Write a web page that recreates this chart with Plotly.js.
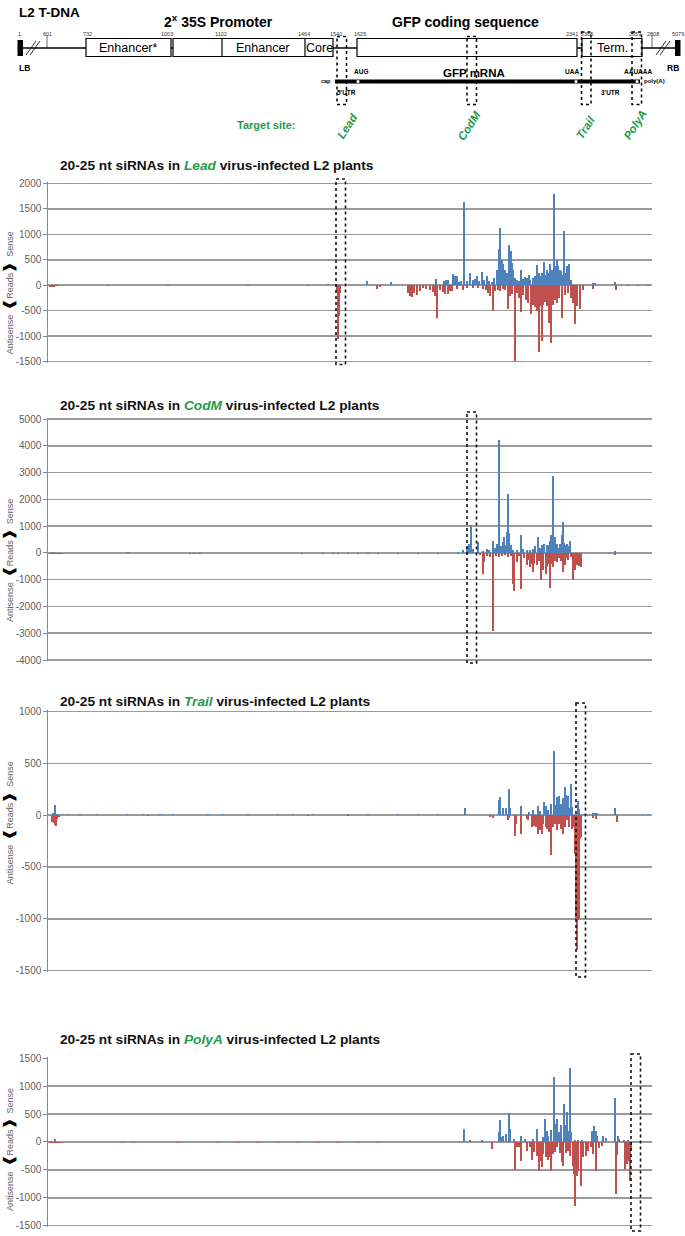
<!DOCTYPE html>
<html><head><meta charset="utf-8">
<script src="https://cdn.plot.ly/plotly-3.0.1.min.js"></script>
<style>html,body{margin:0;padding:0;background:#fff}#chart{width:685px;height:1236px}</style>
</head><body><div id="chart"></div>
<script>
// ---------------- DATA (bin position along plotted T-DNA region, reads) ----------------
const panelNames = ['Lead', 'CodM', 'Trail', 'PolyA'];

const leadSensePos = [5,50,150,250,280,319,343,388,396,398,400,405,407,409,411,413,416,419,422,425,427,429,431,434,436,439,441,444,446,449,451,452,454,455,457,459,461,463,464,465,467,469,471,473,475,477,479,481,482,485,487,489,491,492,494,496,498,499,500,502,504,506,507,509,510,511,512,513,514,515,516,517,518,519,520,521,523,545,547,567];
const leadSense    = [10,8,8,10,15,78,59,130,90,111,100,222,190,176,60,80,1643,90,241,100,120,176,90,261,110,176,80,60,140,306,717,1121,502,420,300,240,789,678,437,306,150,100,90,293,120,160,143,200,100,143,180,398,250,176,250,456,200,306,250,424,300,1786,380,500,380,260,306,280,200,180,1069,220,250,372,300,424,100,40,35,65];
const leadAntiPos  = [2,4,6,8,10,60,120,200,260,289,290,291,292,329,332,360,362,364,366,369,372,375,378,382,385,387,389,392,395,397,400,402,404,409,415,419,425,430,435,438,440,442,445,447,450,452,455,457,460,462,464,467,469,471,473,475,478,480,483,485,487,489,491,492,494,495,497,499,501,503,505,507,509,511,514,517,520,523,525,527,529,532,535,545,568,580,590,600];
const leadAnti     = [-30,-35,-30,-25,-20,-12,-10,-12,-15,-120,-1063,-606,-150,-65,-40,-160,-215,-235,-150,-200,-120,-60,-80,-90,-130,-215,-639,-100,-140,-180,-170,-120,-110,-70,-85,-60,-50,-60,-80,-100,-150,-215,-508,-120,-90,-117,-80,-100,-476,-215,-180,-1487,-150,-250,-528,-200,-300,-350,-574,-380,-420,-508,-1310,-410,-1095,-380,-330,-400,-750,-1128,-380,-300,-345,-250,-639,-200,-150,-250,-345,-769,-400,-463,-85,-65,-85,-10,-12,-10];

const codmSensePos = [5,80,200,300,415,419,421,423,425,430,435,439,441,445,447,449,451,453,455,456,457,459,460,461,463,465,469,473,475,479,482,485,487,490,492,494,496,499,500,502,503,505,507,509,510,512,514,515,516,517,519,520,522,562,567];
const codmSense    = [20,15,10,10,100,225,350,1038,150,412,60,163,120,438,200,350,4225,250,400,600,300,788,2188,725,300,100,120,663,150,100,100,150,250,600,200,300,350,288,300,438,663,2888,600,325,200,350,663,1163,375,300,325,250,438,30,75];
const codmAntiPos  = [2,4,6,8,10,12,14,40,60,75,142,146,152,200,213,250,254,260,275,285,290,300,310,320,330,340,350,360,370,380,390,400,410,420,432,435,436,439,442,445,448,451,454,457,460,463,465,466,469,471,473,476,479,480,482,484,485,486,489,491,493,494,495,498,499,501,502,504,505,507,509,511,513,515,517,519,520,523,525,527,529,531,533,567,580,590];
const codmAnti     = [-45,-50,-45,-40,-45,-40,-35,-15,-15,-15,-25,-30,-25,-15,-20,-20,-25,-20,-30,-25,-35,-25,-30,-25,-30,-20,-25,-20,-25,-20,-25,-20,-25,-30,-80,-775,-338,-100,-150,-2900,-120,-150,-100,-80,-150,-100,-1175,-1425,-338,-120,-1338,-200,-463,-275,-525,-400,-713,-400,-463,-300,-1025,-400,-650,-775,-525,-400,-1300,-400,-525,-300,-338,-200,-300,-713,-463,-200,-275,-150,-1025,-650,-463,-500,-525,-88,-15,-20];

const trailSensePos = [5,7,9,14,20,32,49,79,95,112,115,125,160,175,200,230,245,265,300,320,350,370,390,417,451,452,455,458,461,462,473,481,485,490,492,496,498,500,503,506,507,509,511,512,513,515,517,518,520,521,523,524,530,531,545,547,549,567,595,600];
const trailSense    = [20,103,15,12,10,10,12,10,12,15,15,10,10,15,12,15,15,10,12,10,15,12,10,71,145,177,71,65,258,74,87,32,48,90,40,123,87,50,106,623,100,177,184,80,113,171,274,194,184,74,303,81,139,60,26,26,26,65,10,12];
const trailAntiPos  = [4,5,6,7,8,9,11,100,260,300,442,445,460,461,467,468,473,479,480,484,486,488,490,492,494,495,498,499,500,501,503,505,507,509,511,513,515,517,519,521,524,525,527,528,529,530,531,532,533,545,548,569];
const trailAnti     = [-65,-50,-80,-95,-103,-40,-20,-10,-10,-12,-16,-23,-42,-23,-203,-81,-184,-32,-48,-113,-100,-113,-177,-145,-184,-87,-113,-129,-113,-161,-381,-113,-81,-145,-81,-129,-184,-113,-48,-113,-129,-113,-371,-1016,-1306,-1016,-1000,-226,-210,-23,-32,-65];

const polyaSensePos = [3,7,60,120,416,422,434,451,452,453,455,458,461,462,466,473,477,485,489,495,497,499,500,503,506,507,509,511,513,516,518,519,521,522,523,527,530,534,544,546,548,549,555,558,567,570,571,576,580];
const polyaSense    = [15,60,8,8,232,36,36,173,399,83,113,143,518,232,54,107,54,54,232,83,411,202,113,214,1172,321,411,173,309,678,309,530,202,1333,173,36,36,36,202,286,202,113,113,71,797,113,54,36,42];
const polyaAntiPos  = [2,4,6,8,10,12,40,75,85,100,130,150,170,190,210,230,250,270,290,310,330,350,444,467,469,471,473,479,482,484,486,489,491,492,494,495,498,500,501,503,505,507,509,512,514,515,518,520,522,525,526,527,529,530,533,535,538,540,543,545,548,551,554,568,569,577,579,581,582,583];
const polyaAnti     = [-20,-25,-20,-20,-15,-20,-8,-10,-10,-8,-10,-8,-10,-12,-10,-12,-10,-12,-10,-12,-10,-8,-125,-500,-95,-83,-333,-155,-95,-321,-184,-250,-512,-333,-452,-214,-274,-321,-274,-524,-214,-184,-95,-200,-363,-422,-200,-155,-244,-422,-571,-1148,-601,-512,-797,-274,-244,-155,-95,-214,-512,-107,-65,-940,-226,-482,-393,-333,-690,-155];

const yTicks = [
  [-1500,-1000,-500,0,500,1000,1500,2000],
  [-4000,-3000,-2000,-1000,0,1000,2000,3000,4000,5000],
  [-1500,-1000,-500,0,500,1000],
  [-1500,-1000,-500,0,500,1000,1500]
];

// ---------------- STYLE / LAYOUT ----------------
const W = 685, H = 1236;
const FONT = 'Liberation Sans, Arial, Helvetica, sans-serif';
const BLUE = '#4f81bd', RED = '#c0504d', GREEN = '#1e9c4c', GRID = '#9a9a9a';
const series = [
  [leadSensePos, leadSense, leadAntiPos, leadAnti],
  [codmSensePos, codmSense, codmAntiPos, codmAnti],
  [trailSensePos, trailSense, trailAntiPos, trailAnti],
  [polyaSensePos, polyaSense, polyaAntiPos, polyaAnti]
];
// pixel geometry of each panel: top, bottom of plot area, title y
const geo = [
  {top: 183.5, bot: 361.5, title: 165, box: [179, 364.5], tx: 336},
  {top: 419,   bot: 660,   title: 405, box: [412, 663],   tx: 467},
  {top: 711.7, bot: 970.5, title: 701, box: [703, 977],   tx: 576},
  {top: 1058.3,bot: 1225.7,title: 1039,box: [1054, 1231], tx: 631}
];
const PX0 = 48.3, PX1 = 652;
const PAD = 0.006; // small range padding so edge gridlines are drawn

const traces = [];
const layout = {
  width: W, height: H, margin: {l:0, r:0, t:0, b:0},
  paper_bgcolor: '#fff', plot_bgcolor: 'rgba(0,0,0,0)',
  showlegend: false, barmode: 'overlay', bargap: 0,
  font: {family: FONT},
  shapes: [], annotations: []
};

series.forEach((s, i) => {
  const n = i + 1, xa = 'x' + (n === 1 ? '' : n), ya = 'y' + (n === 1 ? '' : n);
  traces.push({type: 'bar', x: s[0], y: s[1], width: 1.8, xaxis: xa, yaxis: ya,
    marker: {color: BLUE, line: {width: 0}}, hoverinfo: 'skip'});
  traces.push({type: 'bar', x: s[2], y: s[3], width: 1.8, xaxis: xa, yaxis: ya,
    marker: {color: RED, line: {width: 0}}, hoverinfo: 'skip'});
  const g = geo[i];
  const tv = yTicks[i];
  const lo = tv[0], hi = tv[tv.length - 1], span = hi - lo;
  const pxPad = PAD * (g.bot - g.top);
  layout['xaxis' + (n === 1 ? '' : n)] = {
    domain: [PX0 / W, PX1 / W], range: [0, PX1 - PX0], anchor: ya,
    showgrid: false, zeroline: false, showticklabels: false, showline: false, ticks: '', fixedrange: true
  };
  layout['yaxis' + (n === 1 ? '' : n)] = {
    domain: [1 - (g.bot + pxPad) / H, 1 - (g.top - pxPad) / H], range: [lo - PAD * span, hi + PAD * span], anchor: xa,
    tickvals: tv, ticktext: tv.map(String),
    showline: true, linecolor: '#8a8a8a', linewidth: 1,
    ticks: 'outside', ticklen: 4, tickcolor: '#8a8a8a', tickwidth: 1,
    showgrid: true, gridcolor: GRID, gridwidth: 1.6,
    zeroline: true, zerolinecolor: GRID, zerolinewidth: 1.6,
    tickfont: {family: FONT, size: 10, color: '#606060'}, fixedrange: true
  };
  // title
  layout.annotations.push({xref: 'x5', yref: 'y5', x: 58, y: g.title, xanchor: 'left', yanchor: 'middle', showarrow: false,
    text: '<b>20-25 nt siRNAs in <i><span style="color:' + GREEN + '">' + panelNames[i] + '</span></i> virus-infected L2 plants</b>',
    font: {family: FONT, size: 13.7, color: '#111'}});
  // side label
  const zeroPx = g.top + hi / span * (g.bot - g.top);
  layout.annotations.push({xref: 'x5', yref: 'y5', x: 9, y: zeroPx + 8, xanchor: 'center', yanchor: 'middle', showarrow: false,
    textangle: -90,
    text: 'Antisense  <span style="font-size:13px;color:#000"><b>❰</b></span>Reads<span style="font-size:13px;color:#000"><b>❱</b></span>  Sense',
    font: {family: FONT, size: 9, color: '#666'}});
  // dotted target box
  layout.shapes.push({type: 'rect', xref: 'x5', yref: 'y5', x0: g.tx, x1: g.tx + 9.5, y0: g.box[0], y1: g.box[1],
    line: {color: '#111', width: 1.6, dash: 'dot'}, fillcolor: 'rgba(0,0,0,0)'});
});

// overlay pixel-space axis for the schematic and decorations
layout.xaxis5 = {domain: [0, 1], range: [0, W], anchor: 'y5', visible: false, fixedrange: true};
layout.yaxis5 = {domain: [0, 1], range: [H, 0], anchor: 'x5', visible: false, fixedrange: true};
traces.push({type: 'scatter', x: [0], y: [0], xaxis: 'x5', yaxis: 'y5', mode: 'markers', marker: {opacity: 0}, hoverinfo: 'skip'});

// ---------------- T-DNA schematic ----------------
const S = layout.shapes, A = layout.annotations;
const line = (x0, y0, x1, y1, w) => S.push({type: 'line', xref: 'x5', yref: 'y5', x0, y0, x1, y1, line: {color: '#000', width: w || 1.2}});
const rect = (x0, y0, x1, y1, fill, lw, dash) => S.push({type: 'rect', xref: 'x5', yref: 'y5', x0, y0, x1, y1,
  fillcolor: fill, line: {color: '#000', width: lw === undefined ? 1.2 : lw, dash: dash || 'solid'}});
const txt = (x, y, t, size, opts) => A.push(Object.assign({xref: 'x5', yref: 'y5', x, y, text: t, showarrow: false,
  xanchor: 'center', yanchor: 'middle', font: {family: FONT, size, color: '#000'}}, opts || {}));

line(19, 48, 679, 48, 1.3);
rect(17.5, 40, 23, 56, '#000', 0);
rect(675, 40, 680.5, 56, '#000', 0);
line(26, 55, 36, 41, 0.8); line(30, 55, 40, 41, 0.8);
line(656, 55, 666, 41, 0.8); line(660, 55, 670, 41, 0.8);
line(47, 35, 47, 48, 0.6); line(652, 35, 652, 48, 0.6);
rect(86, 38.5, 171, 56.5, '#fff');
rect(173, 38.5, 333, 56.5, '#fff');
line(222, 38.5, 222, 56.5); line(305, 38.5, 305, 56.5);
rect(357, 38.5, 577, 56.5, '#fff');
rect(582, 38.5, 642, 56.5, '#fff');
rect(335, 79.5, 640, 83.5, '#000', 0);
[358, 576, 637].forEach(x => S.push({type: 'circle', xref: 'x5', yref: 'y5', x0: x - 1.6, x1: x + 1.6, y0: 80, y1: 83,
  fillcolor: '#fff', line: {width: 0}}));
// diagram target boxes
[[337, 36.5], [467, 36.5], [581.5, 32], [632, 32]].forEach(b => rect(b[0], b[1], b[0] + 9.5, 104.5, 'rgba(0,0,0,0)', 1.5, 'dot'));

txt(17, 12, '<b>L2 T-DNA</b>', 13.5, {xanchor: 'left'});
txt(218, 21, '<b>2<sup>x</sup> 35S Promoter</b>', 14);
txt(465, 22, '<b>GFP coding sequence</b>', 14);
txt(128, 48, 'Enhancer*', 12.5);
txt(263, 48, 'Enhancer', 12.5);
txt(319, 48, 'Core', 12.5);
txt(612, 48, 'Term.', 12.5);
const numLab = [['1', 19], ['601', 47], ['732', 87], ['1003', 167], ['1102', 221], ['1464', 304], ['1540', 336],
  ['1625', 360], ['2341', 572], ['2385', 587], ['2659', 635], ['2808', 653], ['5079', 678]];
numLab.forEach(n => txt(n[1], 33.5, n[0], 5.5, {font: {family: FONT, size: 5.5, color: '#333'}}));
txt(24, 68, '<b>LB</b>', 8.5);
txt(673, 68, '<b>RB</b>', 8.5);
txt(361, 71, '<b>AUG</b>', 6.5);
txt(474, 73, '<b>GFP mRNA</b>', 11.5);
txt(572, 71, '<b>UAA</b>', 6.5);
txt(638, 71, '<b>AAUAAA</b>', 6.5);
txt(333, 81, '<b>cap</b>', 5.5, {xanchor: 'right'});
txt(642, 81, '<b>poly(A)</b>', 6, {xanchor: 'left'});
txt(346, 92, '<b>5\'UTR</b>', 6.5);
txt(610, 92, '<b>3\'UTR</b>', 6.5);
txt(266, 125, '<b>Target site:</b>', 11, {font: {family: FONT, size: 11, color: GREEN}});
[['Lead', 347, 125.5], ['CodM', 469, 126], ['Trail', 585, 127.5], ['PolyA', 635, 125]].forEach(t =>
  txt(t[1], t[2], '<b><i>' + t[0] + '</i></b>', 11.5, {textangle: -57, font: {family: FONT, size: 11.5, color: GREEN}}));

Plotly.newPlot('chart', traces, layout, {staticPlot: true, displayModeBar: false});
</script></body></html>
